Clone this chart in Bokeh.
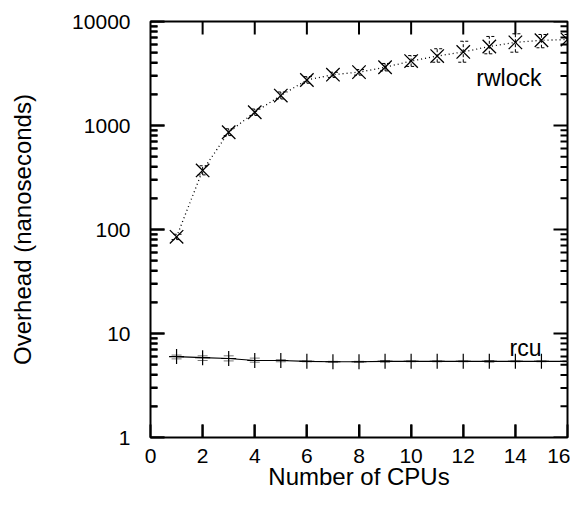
import math
from bokeh.plotting import figure
from bokeh.models import (FixedTicker, Whisker, TeeHead, ColumnDataSource,
                          Label, PrintfTickFormatter)
from bokeh.embed import file_html
from bokeh.resources import INLINE

# ---- data ----
cpus = list(range(1, 17))
rwlock = [85, 370, 862, 1340, 1940, 2740, 3080, 3260, 3630, 4160, 4650, 5100, 5750, 6300, 6600, 6700]
rwlock_lo = [80, 335, 800, 1250, 1800, 2550, 2900, 3050, 3350, 3700, 4060, 4060, 4890, 5070, 5590, 6000]
rwlock_hi = [90, 410, 930, 1440, 2100, 2950, 3250, 3450, 3950, 4700, 5470, 6460, 7180, 7620, 7500, 7500]
rcu = [6.0, 5.85, 5.75, 5.5, 5.5, 5.4, 5.35, 5.35, 5.4, 5.4, 5.4, 5.4, 5.4, 5.4, 5.4, 5.4]
rcu_lo = [5.7, 5.5, 5.45, 5.3, 5.35, 5.35, 5.3, 5.3, 5.3, 5.35, 5.35, 5.35, 5.3, 5.35, 5.35, 5.35]
rcu_hi = [6.2, 6.1, 6.1, 5.8, 5.6, 5.45, 5.4, 5.4, 5.5, 5.45, 5.45, 5.45, 5.5, 5.45, 5.45, 5.45]
x_ticks = [0, 2, 4, 6, 8, 10, 12, 14, 16]
y_ticks = [1, 10, 100, 1000, 10000]

FONT = "Liberation Sans"
X0, X1, Y0, Y1 = 0, 16, 1, 10000
W, H = 570, 494
BL, BR, BT, BB = 150, 3, 21, 57

p = figure(width=W, height=H, x_range=(X0, X1), y_range=(Y0, Y1),
           y_axis_type="log", output_backend="svg", toolbar_location=None,
           min_border_left=BL, min_border_right=BR, min_border_top=BT,
           min_border_bottom=BB)
p.grid.visible = False
p.outline_line_color = "black"
p.outline_line_width = 2

minor = [m * d for d in [1, 10, 100, 1000] for m in range(2, 10)]

for ax in (p.xaxis[0], p.yaxis[0]):
    ax.axis_line_color = None
    ax.major_tick_line_color = "#000000"
    ax.major_tick_line_width = 2
    ax.minor_tick_line_color = "#000000"
    ax.minor_tick_line_width = 2
    ax.major_tick_out = 0
    ax.minor_tick_out = 0
    ax.minor_tick_in = 7
    ax.major_label_text_font = FONT
    ax.major_label_text_font_size = "21px"
    ax.major_label_text_color = "black"
    ax.axis_label_text_font = FONT
    ax.axis_label_text_font_size = "24px"
    ax.axis_label_text_font_style = "normal"
    ax.axis_label_text_color = "black"

p.xaxis[0].ticker = FixedTicker(ticks=x_ticks)
p.xaxis[0].major_tick_in = 13
p.xaxis[0].major_label_standoff = 11
p.xaxis[0].axis_label = "Number of CPUs"
p.xaxis[0].axis_label_standoff = -3

p.yaxis[0].ticker = FixedTicker(ticks=y_ticks, minor_ticks=minor)
p.yaxis[0].major_tick_in = 14
p.yaxis[0].formatter = PrintfTickFormatter(format="%d")
p.yaxis[0].major_label_standoff = 20
p.yaxis[0].axis_label = "Overhead (nanoseconds)"
p.yaxis[0].axis_label_standoff = 33

# inward tick marks: short dash markers centred just inside each frame edge
FW, FH = W - BL - BR, H - BT - BB
px_x = (X1 - X0) / FW                      # data units per pixel along x
dec_px = math.log10(Y1 / Y0) / FH          # decades per pixel along y
TK = dict(line_color="#000000", line_width=2, marker="dash")
xt_inner = x_ticks[1:-1]
n, m, k = len(xt_inner), len(y_ticks), len(minor)
p.scatter(x=xt_inner, y=[Y0 * 10 ** (6.5 * dec_px)] * n, size=13, angle=math.pi / 2, **TK)
p.scatter(x=xt_inner, y=[Y1 / 10 ** (6.5 * dec_px)] * n, size=13, angle=math.pi / 2, **TK)
p.scatter(x=[X0 + 7 * px_x] * m, y=y_ticks, size=14, **TK)
p.scatter(x=[X1 - 7 * px_x] * m, y=y_ticks, size=14, **TK)
p.scatter(x=[X0 + 3.5 * px_x] * k, y=minor, size=7, **TK)
p.scatter(x=[X1 - 3.5 * px_x] * k, y=minor, size=7, **TK)

src = ColumnDataSource(dict(x=cpus, rw=rwlock, rwlo=rwlock_lo, rwhi=rwlock_hi,
                            rcu=rcu, rculo=rcu_lo, rcuhi=rcu_hi))

p.add_layout(Whisker(source=src, base="x", lower="rwlo", upper="rwhi",
                     line_color="black", line_width=1, line_dash="3 2",
                     lower_head=TeeHead(size=10, line_width=1, line_dash="3 2"),
                     upper_head=TeeHead(size=10, line_width=1, line_dash="3 2")))
p.add_layout(Whisker(source=src, base="x", lower="rculo", upper="rcuhi",
                     line_color="#777777", line_width=1,
                     lower_head=TeeHead(size=10, line_width=1, line_color="#777777"),
                     upper_head=TeeHead(size=10, line_width=1, line_color="#777777")))

p.line("x", "rw", source=src, line_color="black", line_width=1.3, line_dash="1 3")
p.scatter("x", "rw", source=src, marker="x", size=19, line_color="black", line_width=1.3)
p.line("x", "rcu", source=src, line_color="black", line_width=1.2)
p.scatter("x", "rcu", source=src, marker="cross", size=15, line_color="black", line_width=1.2)

p.add_layout(Label(x=15, y=2894, text="rwlock", text_align="right",
                   text_baseline="alphabetic", text_font=FONT,
                   text_font_size="23px", text_color="black"))
p.add_layout(Label(x=15, y=7.29, text="rcu", text_align="right",
                   text_baseline="alphabetic", text_font=FONT,
                   text_font_size="23px", text_color="black"))

open("out.html", "w").write(file_html(p, INLINE))
